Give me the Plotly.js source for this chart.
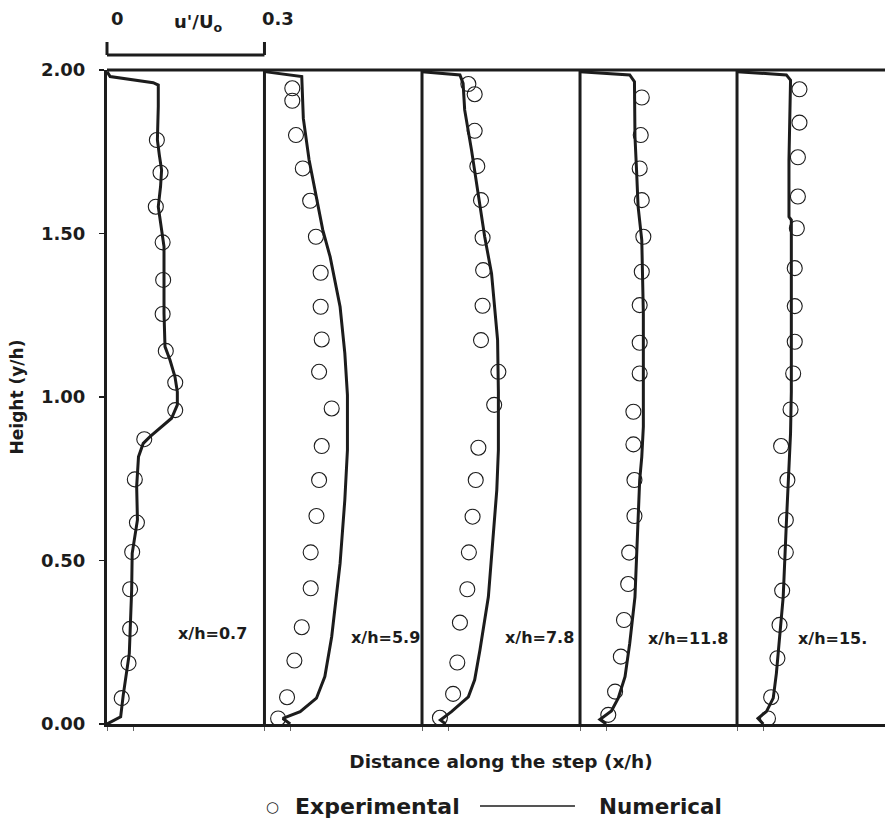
<!DOCTYPE html>
<html><head><meta charset="utf-8">
<script src="https://cdn.plot.ly/plotly-3.0.1.min.js"></script>
<style>html,body{margin:0;padding:0;background:#fff}</style>
</head><body><div id="chart" style="width:885px;height:825px"></div>
<script>
// Station labels
const stations = ['x/h=0.7', 'x/h=5.9', 'x/h=7.8', 'x/h=11.8', 'x/h=15.'];

// Experimental u'/Uo and y/h for each station
const expU1 = [0.028,0.041,0.044,0.044,0.048,0.057,0.053,0.071,0.130,0.130,0.112,0.106,0.107,0.106,0.093,0.102,0.095];
const expY1 = [0.079,0.186,0.291,0.412,0.526,0.616,0.748,0.871,0.960,1.044,1.141,1.254,1.358,1.473,1.582,1.686,1.786];
const expU2 = [0.026,0.043,0.057,0.071,0.088,0.088,0.099,0.104,0.109,0.128,0.104,0.109,0.107,0.107,0.098,0.087,0.073,0.060,0.053,0.053];
const expY2 = [0.017,0.082,0.194,0.296,0.415,0.525,0.636,0.746,0.850,0.965,1.077,1.176,1.276,1.380,1.490,1.600,1.699,1.801,1.906,1.944];
const expU3 = [0.034,0.059,0.067,0.072,0.086,0.089,0.096,0.102,0.107,0.137,0.145,0.112,0.115,0.116,0.115,0.112,0.105,0.100,0.100,0.088];
const expY3 = [0.019,0.092,0.188,0.310,0.412,0.525,0.634,0.746,0.845,0.976,1.077,1.174,1.279,1.388,1.487,1.602,1.706,1.814,1.926,1.957];
const expU4 = [0.054,0.067,0.078,0.084,0.092,0.094,0.104,0.104,0.102,0.102,0.114,0.114,0.114,0.118,0.121,0.118,0.114,0.116,0.118];
const expY4 = [0.028,0.099,0.206,0.318,0.428,0.524,0.636,0.746,0.855,0.955,1.072,1.166,1.281,1.383,1.490,1.602,1.699,1.801,1.916];
const expU5 = [0.059,0.065,0.077,0.081,0.086,0.093,0.093,0.096,0.084,0.102,0.107,0.110,0.110,0.110,0.114,0.116,0.116,0.119,0.119];
const expY5 = [0.017,0.082,0.201,0.303,0.408,0.525,0.624,0.746,0.850,0.962,1.072,1.169,1.278,1.394,1.516,1.613,1.733,1.839,1.941];

// Numerical u'/Uo and y/h for each station
const numU1 = [0,0.026,0.031,0.0425,0.047,0.048,0.058,0.0565,0.060,0.069,0.082,0.123,0.134,0.134,0.1295,0.120,0.1105,0.1086,0.1086,0.101,0.0977,0.102,0.104,0.0997,0.096,0.0977,0.0977,0.088,0.006,0];
const numY1 = [0,0.022,0.089,0.216,0.410,0.522,0.624,0.726,0.817,0.858,0.879,0.935,0.976,1.016,1.062,1.113,1.154,1.256,1.460,1.541,1.582,1.643,1.694,1.740,1.786,1.888,1.954,1.961,1.980,1.995];
const numU2 = [0.049,0.035,0.068,0.099,0.115,0.128,0.144,0.153,0.158,0.158,0.153,0.144,0.125,0.111,0.085,0.074,0.071,0];
const numY2 = [0.000,0.017,0.038,0.079,0.145,0.267,0.491,0.685,0.838,1.006,1.134,1.276,1.429,1.511,1.725,1.852,1.980,1.995];
const numU3 = [0.045,0.035,0.056,0.088,0.100,0.110,0.126,0.135,0.142,0.145,0.145,0.1435,0.138,0.132,0.119,0.107,0.094,0.081,0.078,0.072,0];
const numY3 = [0.000,0.012,0.038,0.083,0.135,0.226,0.389,0.563,0.716,0.838,1.016,1.174,1.276,1.378,1.490,1.623,1.755,1.878,1.959,1.985,1.995];
const numU4 = [0.050,0.038,0.060,0.073,0.086,0.095,0.105,0.111,0.114,0.118,0.121,0.121,0.121,0.118,0.111,0.108,0.105,0.104,0.095,0];
const numY4 = [0.000,0.014,0.040,0.079,0.145,0.247,0.389,0.614,0.746,0.817,0.909,1.016,1.256,1.480,1.582,1.694,1.796,1.964,1.985,1.995];
const numU5 = [0.050,0.040,0.056,0.069,0.075,0.081,0.088,0.094,0.097,0.102,0.1035,0.1035,0.099,0.099,0.102,0.094,0];
const numY5 = [0.000,0.017,0.038,0.079,0.155,0.267,0.389,0.614,0.716,0.889,1.016,1.541,1.551,1.725,1.969,1.985,1.995];

// Axis tick values and header/legend labels
const yTicks = [0, 0.5, 1.0, 1.5, 2.0];
const scaleLabels = ['0', "u'/U<sub>o</sub>", '0.3'];
const seriesNames = ['Experimental', 'Numerical'];

const expU = [expU1, expU2, expU3, expU4, expU5];
const expY = [expY1, expY2, expY3, expY4, expY5];
const numU = [numU1, numU2, numU3, numU4, numU5];
const numY = [numY1, numY2, numY3, numY4, numY5];

const INK = '#1c1c1c';
const FONT = 'DejaVu Sans, Arial, sans-serif';
const axNames = ['x', 'x2', 'x3', 'x4', 'x5'];
const domains = [[0, 0.2024], [0.2024, 0.4049], [0.4049, 0.608], [0.608, 0.8098], [0.8098, 1]];
const ranges = [[0, 0.3], [0, 0.3], [0, 0.3], [0, 0.3], [0, 0.282]];
const labelPos = [[0.131, 0.278], [0.161, 0.266], [0.154, 0.266], [0.127, 0.263], [0.113, 0.263]];

const traces = [];
for (let i = 0; i < 5; i++) {
  traces.push({
    type: 'scatter', mode: 'lines', x: numU[i], y: numY[i],
    xaxis: axNames[i], yaxis: 'y', name: seriesNames[1], showlegend: false,
    line: {color: INK, width: 3}
  });
  traces.push({
    type: 'scatter', mode: 'markers', x: expU[i], y: expY[i],
    xaxis: axNames[i], yaxis: 'y', name: seriesNames[0], showlegend: false, cliponaxis: false,
    marker: {symbol: 'circle-open', size: 15, color: INK, line: {width: 1.1, color: INK}}
  });
}

const layout = {
  width: 885, height: 825,
  margin: {l: 107, r: 0, t: 70, b: 101},
  paper_bgcolor: '#fff', plot_bgcolor: '#fff',
  font: {family: FONT, color: INK, size: 16, weight: 'bold'},
  showlegend: false,
  yaxis: {
    range: [0, 2], domain: [0, 1], tickvals: yTicks, tickformat: '.2f',
    showline: true, linewidth: 3, linecolor: INK, showgrid: false, zeroline: false,
    ticks: 'outside', ticklen: 5, tickwidth: 1.5, tickcolor: INK, ticklabelstandoff: 10,
    tickfont: {family: FONT, size: 18, color: INK, weight: 'bold'},
    title: {text: 'Height (y/h)', standoff: 14, font: {family: FONT, size: 17, color: INK, weight: 'bold'}}
  },
  shapes: [],
  annotations: []
};

for (let i = 0; i < 5; i++) {
  const key = i === 0 ? 'xaxis' : 'xaxis' + (i + 1);
  layout[key] = {
    domain: domains[i], range: ranges[i], anchor: 'y',
    showline: true, linewidth: 3, linecolor: INK, showgrid: false, zeroline: false,
    ticks: 'outside', tickvals: [0, 0.05], ticklen: 4, tickwidth: 1, tickcolor: '#666',
    showticklabels: false, fixedrange: true
  };
  if (i > 0) {
    layout.shapes.push({type: 'line', xref: 'paper', x0: domains[i][0], x1: domains[i][0], yref: 'paper', y0: 0, y1: 1,
      line: {color: INK, width: 3}});
  }
  layout.annotations.push({
    xref: axNames[i], yref: 'y', x: labelPos[i][0], y: labelPos[i][1],
    xanchor: 'left', yanchor: 'middle', showarrow: false, text: stations[i],
    font: {family: FONT, size: 16, color: INK, weight: 'bold'}
  });
}
layout.xaxis3.title = {text: 'Distance along the step (x/h)', standoff: 26,
  font: {family: FONT, size: 18.5, color: INK, weight: 'bold'}};

// top frame line
layout.shapes.push({type: 'line', xref: 'paper', yref: 'paper', x0: 0, x1: 1, y0: 1, y1: 1,
  line: {color: INK, width: 3}});
// scale bar for u'/Uo
const barY = 1 + 15 / 654, tickY = 1 + 28 / 654;
layout.shapes.push({type: 'line', xref: 'paper', yref: 'paper', x0: 0, x1: domains[0][1], y0: barY, y1: barY, line: {color: INK, width: 3}});
layout.shapes.push({type: 'line', xref: 'paper', yref: 'paper', x0: 0, x1: 0, y0: barY, y1: tickY, line: {color: INK, width: 3}});
layout.shapes.push({type: 'line', xref: 'paper', yref: 'paper', x0: domains[0][1], x1: domains[0][1], y0: barY, y1: tickY, line: {color: INK, width: 3}});
const scaleX = [0.014, 0.117, 0.2198];
const scaleY = [1.078, 1.072, 1.078];
for (let k = 0; k < 3; k++) {
  layout.annotations.push({xref: 'paper', yref: 'paper', x: scaleX[k], y: scaleY[k],
    xanchor: 'center', yanchor: 'middle', showarrow: false, text: scaleLabels[k],
    font: {family: FONT, size: 18, color: INK, weight: 'bold'}});
}

// legend (drawn below the axis title)
const legY = -0.1254;
layout.annotations.push({xref: 'paper', yref: 'paper', x: 0.2121, y: legY - 0.002, xanchor: 'center', yanchor: 'middle',
  showarrow: false, text: '○', font: {family: FONT, size: 15, color: INK}});
layout.annotations.push({xref: 'paper', yref: 'paper', x: 0.2391, y: legY, xanchor: 'left', yanchor: 'middle',
  showarrow: false, text: seriesNames[0], font: {family: FONT, size: 22, color: INK, weight: 'bold'}});
layout.shapes.push({type: 'line', xref: 'paper', yref: 'paper', x0: 0.4794, x1: 0.6015, y0: legY, y1: legY,
  line: {color: INK, width: 1.6}});
layout.annotations.push({xref: 'paper', yref: 'paper', x: 0.6298, y: legY, xanchor: 'left', yanchor: 'middle',
  showarrow: false, text: seriesNames[1], font: {family: FONT, size: 21.5, color: INK, weight: 'bold'}});

Plotly.newPlot('chart', traces, layout, {displayModeBar: false, staticPlot: true});
</script>
</body></html>
